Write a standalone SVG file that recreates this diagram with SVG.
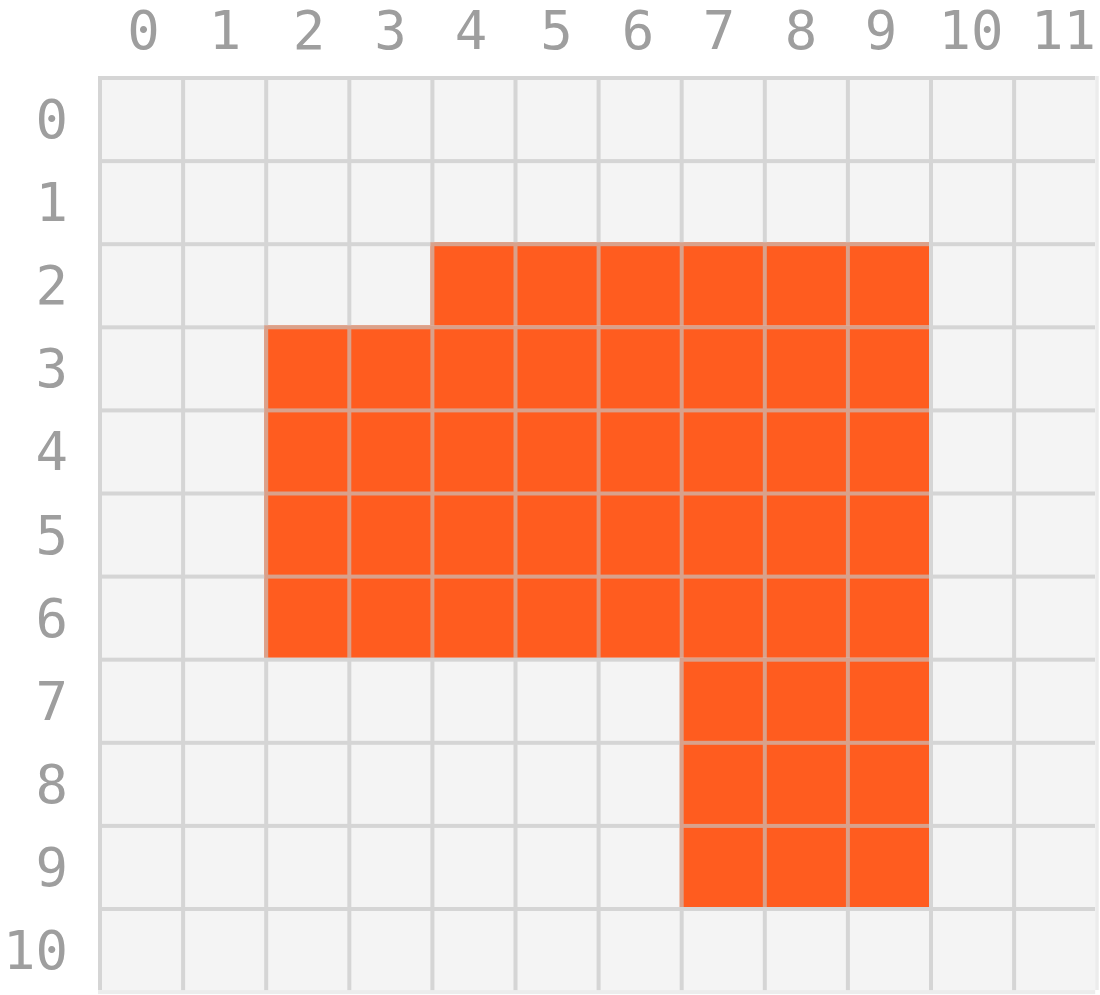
<svg xmlns="http://www.w3.org/2000/svg" width="1100" height="995" viewBox="0 0 1100 995">
<style>
.lbl{font-family:"DejaVu Sans Mono","Liberation Mono",monospace;font-size:54px;fill:#9e9e9e}
.col{text-anchor:middle}
.row{text-anchor:end}
.on{fill:#ff5c1f}
</style>
<rect x="0" y="0" width="1100" height="995" fill="#ffffff"/>
<g id="grid-bg">
<rect x="98" y="76" width="997.2" height="914.1" fill="#f4f4f4"/>
</g>
<g id="filled">
<rect class="on" x="430.4" y="242.2" width="498.6" height="83.1"/>
<rect class="on" x="264.2" y="325.3" width="664.8" height="332.4"/>
<rect class="on" x="679.7" y="657.7" width="249.3" height="249.3"/>
</g>
<g id="lines" fill="#c6c6c6" opacity="0.65">
<rect x="98" y="76" width="4" height="914"/>
<rect x="181.1" y="76" width="4" height="918"/>
<rect x="264.2" y="76" width="4" height="918"/>
<rect x="347.3" y="76" width="4" height="918"/>
<rect x="430.4" y="76" width="4" height="918"/>
<rect x="513.5" y="76" width="4" height="918"/>
<rect x="596.6" y="76" width="4" height="918"/>
<rect x="679.7" y="76" width="4" height="918"/>
<rect x="762.8" y="76" width="4" height="918"/>
<rect x="845.9" y="76" width="4" height="918"/>
<rect x="929" y="76" width="4" height="918"/>
<rect x="1012.1" y="76" width="4" height="918"/>
<rect x="98" y="76" width="997" height="4"/>
<rect x="98" y="159.1" width="997" height="4"/>
<rect x="98" y="242.2" width="997" height="4"/>
<rect x="98" y="325.3" width="997" height="4"/>
<rect x="98" y="408.4" width="997" height="4"/>
<rect x="98" y="491.5" width="997" height="4"/>
<rect x="98" y="574.6" width="997" height="4"/>
<rect x="98" y="657.7" width="997" height="4"/>
<rect x="98" y="740.8" width="997" height="4"/>
<rect x="98" y="823.9" width="997" height="4"/>
<rect x="98" y="907" width="997" height="4"/>
</g>
<g id="edges" fill="#ececec">
<rect x="1095.2" y="76" width="3.5" height="914"/>
<rect x="98" y="990.1" width="997.2" height="4"/>
</g>
<g id="col-labels" class="lbl col">
<text x="143.5" y="49">0</text>
<text x="225" y="49">1</text>
<text x="309" y="49">2</text>
<text x="390.5" y="49">3</text>
<text x="471" y="49">4</text>
<text x="556.5" y="49">5</text>
<text x="638" y="49">6</text>
<text x="719" y="49">7</text>
<text x="801" y="49">8</text>
<text x="881" y="49">9</text>
<text x="971" y="49">10</text>
<text x="1063.5" y="49">11</text>
</g>
<g id="row-labels" class="lbl row">
<text x="68" y="138">0</text>
<text x="68" y="221.1">1</text>
<text x="68" y="304.2">2</text>
<text x="68" y="387.3">3</text>
<text x="68" y="470.4">4</text>
<text x="68" y="553.5">5</text>
<text x="68" y="636.6">6</text>
<text x="68" y="719.7">7</text>
<text x="68" y="802.8">8</text>
<text x="68" y="885.9">9</text>
<text x="68" y="969">10</text>
</g>
</svg>
